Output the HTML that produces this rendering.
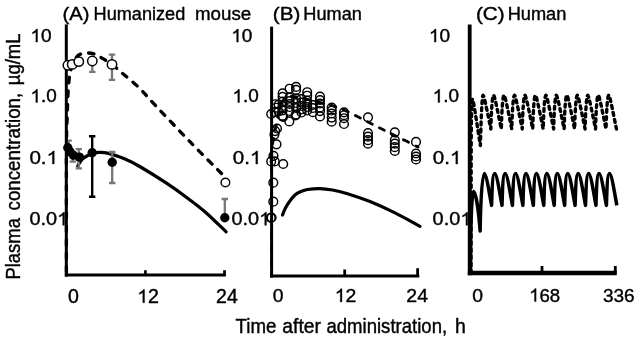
<!DOCTYPE html>
<html><head><meta charset="utf-8"><title>Plasma concentration</title>
<style>html,body{margin:0;padding:0;background:#fff}svg{display:block;will-change:transform;filter:blur(0.45px)}text{font-family:"Liberation Sans",sans-serif;fill:#000;stroke:#000;stroke-width:0.4px}</style></head><body>
<svg width="640" height="341" viewBox="0 0 640 341">
<rect width="640" height="341" fill="#fff"/>
<text x="62.59" y="19.7" font-size="18.9" textLength="26.99" lengthAdjust="spacingAndGlyphs">(A)</text>
<text x="93.55" y="19.7" font-size="18.9" textLength="91.76" lengthAdjust="spacingAndGlyphs">Humanized</text>
<text x="194.98" y="19.7" font-size="18.9" textLength="56.19" lengthAdjust="spacingAndGlyphs">mouse</text>
<text x="272.87" y="19.7" font-size="18.9" textLength="27.43" lengthAdjust="spacingAndGlyphs">(B)</text>
<text x="303.35" y="19.7" font-size="18.9" textLength="58.56" lengthAdjust="spacingAndGlyphs">Human</text>
<text x="475.96" y="19.7" font-size="18.9" textLength="28.63" lengthAdjust="spacingAndGlyphs">(C)</text>
<text x="507.64" y="19.7" font-size="18.9" textLength="58.77" lengthAdjust="spacingAndGlyphs">Human</text>
<g transform="translate(30.42,42.1) scale(1.0040,1)">
<path transform="translate(0.00,0) scale(0.00928,-0.00889)" d="M763,0H583V1147Q518,1085 412.5,1023T223,930V1104Q373,1174.5 485,1275T644,1470H763Z" fill="#000" stroke="#000" stroke-width="37.7"/>
<text x="10.57" y="0" font-size="19.0">0</text>
</g>
<g transform="translate(30.44,102.4) scale(0.9964,1)">
<path transform="translate(0.00,0) scale(0.00928,-0.00889)" d="M763,0H583V1147Q518,1085 412.5,1023T223,930V1104Q373,1174.5 485,1275T644,1470H763Z" fill="#000" stroke="#000" stroke-width="37.7"/>
<text x="10.57" y="0" font-size="19.0">.0</text>
</g>
<g transform="translate(29.38,164.0) scale(1.0838,1)">
<text x="0.00" y="0" font-size="19.0">0.</text>
<path transform="translate(15.85,0) scale(0.00928,-0.00889)" d="M763,0H583V1147Q518,1085 412.5,1023T223,930V1104Q373,1174.5 485,1275T644,1470H763Z" fill="#000" stroke="#000" stroke-width="37.7"/>
</g>
<g transform="translate(29.40,225.3) scale(1.0472,1)">
<text x="0.00" y="0" font-size="19.0">0.0</text>
<path transform="translate(26.41,0) scale(0.00928,-0.00889)" d="M763,0H583V1147Q518,1085 412.5,1023T223,930V1104Q373,1174.5 485,1275T644,1470H763Z" fill="#000" stroke="#000" stroke-width="37.7"/>
</g>
<g transform="translate(231.22,42.1) scale(1.0040,1)">
<path transform="translate(0.00,0) scale(0.00928,-0.00889)" d="M763,0H583V1147Q518,1085 412.5,1023T223,930V1104Q373,1174.5 485,1275T644,1470H763Z" fill="#000" stroke="#000" stroke-width="37.7"/>
<text x="10.57" y="0" font-size="19.0">0</text>
</g>
<g transform="translate(232.44,102.4) scale(0.9964,1)">
<path transform="translate(0.00,0) scale(0.00928,-0.00889)" d="M763,0H583V1147Q518,1085 412.5,1023T223,930V1104Q373,1174.5 485,1275T644,1470H763Z" fill="#000" stroke="#000" stroke-width="37.7"/>
<text x="10.57" y="0" font-size="19.0">.0</text>
</g>
<g transform="translate(232.78,164.0) scale(1.0838,1)">
<text x="0.00" y="0" font-size="19.0">0.</text>
<path transform="translate(15.85,0) scale(0.00928,-0.00889)" d="M763,0H583V1147Q518,1085 412.5,1023T223,930V1104Q373,1174.5 485,1275T644,1470H763Z" fill="#000" stroke="#000" stroke-width="37.7"/>
</g>
<g transform="translate(231.40,225.3) scale(1.0472,1)">
<text x="0.00" y="0" font-size="19.0">0.0</text>
<path transform="translate(26.41,0) scale(0.00928,-0.00889)" d="M763,0H583V1147Q518,1085 412.5,1023T223,930V1104Q373,1174.5 485,1275T644,1470H763Z" fill="#000" stroke="#000" stroke-width="37.7"/>
</g>
<g transform="translate(428.92,42.1) scale(1.0040,1)">
<path transform="translate(0.00,0) scale(0.00928,-0.00889)" d="M763,0H583V1147Q518,1085 412.5,1023T223,930V1104Q373,1174.5 485,1275T644,1470H763Z" fill="#000" stroke="#000" stroke-width="37.7"/>
<text x="10.57" y="0" font-size="19.0">0</text>
</g>
<g transform="translate(432.64,102.4) scale(0.9964,1)">
<path transform="translate(0.00,0) scale(0.00928,-0.00889)" d="M763,0H583V1147Q518,1085 412.5,1023T223,930V1104Q373,1174.5 485,1275T644,1470H763Z" fill="#000" stroke="#000" stroke-width="37.7"/>
<text x="10.57" y="0" font-size="19.0">.0</text>
</g>
<g transform="translate(432.78,164.0) scale(1.0838,1)">
<text x="0.00" y="0" font-size="19.0">0.</text>
<path transform="translate(15.85,0) scale(0.00928,-0.00889)" d="M763,0H583V1147Q518,1085 412.5,1023T223,930V1104Q373,1174.5 485,1275T644,1470H763Z" fill="#000" stroke="#000" stroke-width="37.7"/>
</g>
<g transform="translate(432.60,225.3) scale(1.0472,1)">
<text x="0.00" y="0" font-size="19.0">0.0</text>
<path transform="translate(26.41,0) scale(0.00928,-0.00889)" d="M763,0H583V1147Q518,1085 412.5,1023T223,930V1104Q373,1174.5 485,1275T644,1470H763Z" fill="#000" stroke="#000" stroke-width="37.7"/>
</g>
<text x="67.96" y="302.8" font-size="19.4" textLength="10.89" lengthAdjust="spacingAndGlyphs">0</text>
<g transform="translate(137.21,302.8) scale(1.0123,1)">
<path transform="translate(0.00,0) scale(0.00947,-0.00908)" d="M763,0H583V1147Q518,1085 412.5,1023T223,930V1104Q373,1174.5 485,1275T644,1470H763Z" fill="#000" stroke="#000" stroke-width="36.9"/>
<text x="10.79" y="0" font-size="19.4">2</text>
</g>
<text x="216.13" y="302.8" font-size="19.4" textLength="21.68" lengthAdjust="spacingAndGlyphs">24</text>
<text x="272.87" y="301.9" font-size="19.1" textLength="10.78" lengthAdjust="spacingAndGlyphs">0</text>
<g transform="translate(334.73,301.9) scale(1.0173,1)">
<path transform="translate(0.00,0) scale(0.00933,-0.00894)" d="M763,0H583V1147Q518,1085 412.5,1023T223,930V1104Q373,1174.5 485,1275T644,1470H763Z" fill="#000" stroke="#000" stroke-width="37.5"/>
<text x="10.62" y="0" font-size="19.1">2</text>
</g>
<text x="406.33" y="301.9" font-size="19.1" textLength="21.68" lengthAdjust="spacingAndGlyphs">24</text>
<text x="472.22" y="301.6" font-size="18.9" textLength="10.78" lengthAdjust="spacingAndGlyphs">0</text>
<g transform="translate(529.17,301.6) scale(0.9861,1)">
<path transform="translate(0.00,0) scale(0.00923,-0.00885)" d="M763,0H583V1147Q518,1085 412.5,1023T223,930V1104Q373,1174.5 485,1275T644,1470H763Z" fill="#000" stroke="#000" stroke-width="37.9"/>
<text x="10.51" y="0" font-size="18.9">68</text>
</g>
<text x="602.99" y="301.6" font-size="18.9" textLength="31.64" lengthAdjust="spacingAndGlyphs">336</text>
<text x="235.53" y="333.2" font-size="19.3" textLength="40.84" lengthAdjust="spacingAndGlyphs">Time</text>
<text x="282.33" y="333.2" font-size="19.3" textLength="38.73" lengthAdjust="spacingAndGlyphs">after</text>
<text x="326.46" y="333.2" font-size="19.3" textLength="120.67" lengthAdjust="spacingAndGlyphs">administration,</text>
<text x="454.93" y="333.2" font-size="19.3" textLength="10.86" lengthAdjust="spacingAndGlyphs">h</text>
<text transform="translate(19.8,300) rotate(-90)" x="20.42" y="0" font-size="19.4" textLength="61.61" lengthAdjust="spacingAndGlyphs">Plasma</text>
<text transform="translate(19.8,300) rotate(-90)" x="89.55" y="0" font-size="19.4" textLength="117.70" lengthAdjust="spacingAndGlyphs">concentration,</text>
<text transform="translate(19.8,300) rotate(-90)" x="214.80" y="0" font-size="19.4" textLength="51.67" lengthAdjust="spacingAndGlyphs">µg/mL</text>
<path d="M66.4,272.0C66.4,253.3 66.4,183.5 66.4,160.0C66.5,136.5 66.6,138.0 66.7,131.0C66.8,124.0 67.0,123.0 67.2,118.0C67.4,113.0 67.5,106.5 67.7,101.0C67.9,95.5 68.2,89.8 68.6,85.0C69.0,80.2 69.4,75.9 70.3,72.0C71.2,68.1 72.6,64.3 74.0,61.5C75.4,58.7 76.6,56.4 78.8,55.0C81.0,53.6 84.3,53.1 87.0,53.0C89.7,52.9 92.3,53.3 95.0,54.3C97.7,55.2 100.2,57.0 103.0,58.7C105.8,60.4 108.9,62.2 112.0,64.6C115.1,66.9 117.5,69.1 121.8,72.8C126.1,76.5 132.2,81.1 137.8,86.5C143.4,91.9 146.4,95.9 155.2,105.2C164.0,114.5 179.2,130.7 190.4,142.2C201.6,153.7 217.0,169.0 222.3,174.3" fill="none" stroke="#000" stroke-width="3.3" stroke-dasharray="5.5 8" stroke-linecap="round"/>
<path d="M77.7,166.0C78.2,165.2 79.4,162.9 80.5,161.5C81.6,160.1 82.2,158.9 84.2,157.6C86.2,156.2 89.7,154.3 92.3,153.4C94.9,152.5 97.3,152.4 100.0,152.4C102.7,152.4 104.3,152.3 108.4,153.4C112.5,154.5 119.1,156.5 124.5,158.8C129.9,161.1 133.6,162.9 140.6,167.0C147.6,171.1 158.4,177.8 166.5,183.2C174.6,188.6 182.6,194.4 189.0,199.2C195.4,204.0 199.0,206.6 205.2,212.0C211.4,217.4 222.6,228.5 226.1,231.8" fill="none" stroke="#000" stroke-width="3.2" stroke-linecap="round"/>
<path d="M92.3,56V71.9M89.1,71.9h6.4" stroke="#777" stroke-width="2.3" fill="none"/>
<path d="M112,54.6V79.8M108.8,54.6h6.4M108.8,79.8h6.4" stroke="#777" stroke-width="2.3" fill="none"/>
<path d="M68.6,140.6V155M65.39999999999999,140.6h6.4" stroke="#777" stroke-width="2.3" fill="none"/>
<path d="M72.8,150V161.6M69.6,161.6h6.4" stroke="#777" stroke-width="2.3" fill="none"/>
<path d="M78.8,149.1V168.4M75.6,149.1h6.4M75.6,168.4h6.4" stroke="#777" stroke-width="2.3" fill="none"/>
<path d="M92.2,136.3V196.8M89.0,136.3h6.4M89.0,196.8h6.4" stroke="#000" stroke-width="2.4" fill="none"/>
<path d="M112.2,152V183M109.0,152h6.4M109.0,183h6.4" stroke="#777" stroke-width="2.3" fill="none"/>
<path d="M224.8,199V217M221.60000000000002,199h6.4" stroke="#777" stroke-width="2.3" fill="none"/>
<path d="M66.3,24.4V276.6" stroke="#000" stroke-width="3" fill="none"/>
<path d="M64.8,275H225.9" stroke="#000" stroke-width="3.1" fill="none"/>
<path d="M145.4,275V270.3M224.5,275V270.3" stroke="#000" stroke-width="2.7" fill="none"/>
<circle cx="67.9" cy="65.3" r="4.7" fill="#fff" stroke="#000" stroke-width="1.5"/>
<circle cx="72.2" cy="64.4" r="4.7" fill="#fff" stroke="#000" stroke-width="1.5"/>
<circle cx="78.8" cy="61.6" r="4.7" fill="#fff" stroke="#000" stroke-width="1.5"/>
<circle cx="92.3" cy="61" r="4.7" fill="#fff" stroke="#000" stroke-width="1.5"/>
<circle cx="112" cy="64.4" r="4.7" fill="#fff" stroke="#000" stroke-width="1.5"/>
<circle cx="225.4" cy="182.5" r="4.3" fill="#fff" stroke="#000" stroke-width="1.4"/>
<circle cx="67.8" cy="147.8" r="4.7" fill="#000"/>
<circle cx="70" cy="151.9" r="4.7" fill="#000"/>
<circle cx="73.4" cy="155.3" r="4.7" fill="#000"/>
<circle cx="79.4" cy="157.1" r="4.7" fill="#000"/>
<circle cx="92.2" cy="152.8" r="4.7" fill="#000"/>
<circle cx="112.2" cy="162.2" r="4.7" fill="#000"/>
<circle cx="224.8" cy="217.8" r="4.7" fill="#000"/>
<path d="M271.6,273.0C271.6,254.2 271.5,181.3 271.6,160.0C271.8,138.7 272.0,149.5 272.5,145.0C273.0,140.5 273.9,136.4 274.5,133.0C275.1,129.6 275.7,128.0 276.4,124.5C277.1,121.0 277.7,115.4 278.5,112.0C279.3,108.6 279.9,106.2 281.0,104.0C282.1,101.8 283.3,99.8 285.0,98.5C286.7,97.2 288.5,96.7 291.0,96.5C293.5,96.3 296.8,96.9 300.0,97.5C303.2,98.1 306.7,99.2 310.0,100.0C313.3,100.8 316.3,101.6 320.0,102.5C323.7,103.4 328.0,104.2 332.0,105.5C336.0,106.8 340.7,108.6 344.0,110.0C347.3,111.4 348.0,111.8 352.0,113.8C356.0,115.8 362.9,119.4 368.0,122.0C373.1,124.6 377.6,127.0 382.8,129.6C388.1,132.2 393.6,134.8 399.5,137.7C405.4,140.6 414.9,145.4 418.0,147.0" fill="none" stroke="#000" stroke-width="2.8" stroke-dasharray="5.5 8" stroke-linecap="round" stroke-dashoffset="5.4"/>
<path d="M282.5,215.0C282.9,214.0 283.9,211.1 285.0,209.0C286.1,206.9 287.1,204.8 288.8,202.5C290.5,200.2 293.0,196.8 295.0,195.0C297.0,193.2 298.9,192.4 301.0,191.5C303.1,190.6 304.3,190.0 307.5,189.5C310.7,189.0 315.8,188.5 320.0,188.6C324.2,188.7 327.9,189.2 332.5,190.0C337.1,190.8 341.2,191.8 347.5,193.7C353.8,195.6 362.1,198.4 370.0,201.6C377.9,204.8 386.7,208.8 395.0,212.9C403.3,217.0 415.8,224.1 420.0,226.3" fill="none" stroke="#000" stroke-width="3.2" stroke-linecap="round"/>
<path d="M271.6,26.6V277.6" stroke="#000" stroke-width="3" fill="none"/>
<path d="M270.1,276H419.3" stroke="#000" stroke-width="3.1" fill="none"/>
<path d="M344.7,276V269.5M417.6,276V268.3" stroke="#000" stroke-width="2.8" fill="none"/>
<g fill="none" stroke="#000" stroke-width="1.45">
<circle cx="270.8" cy="217.9" r="4.35"/>
<circle cx="271.6" cy="217.5" r="4.35"/>
<circle cx="273.3" cy="201.7" r="4.35"/>
<circle cx="273.3" cy="182.7" r="4.35"/>
<circle cx="271.2" cy="161.4" r="4.35"/>
<circle cx="274.7" cy="161.4" r="4.35"/>
<circle cx="273.5" cy="155.8" r="4.35"/>
<circle cx="276.5" cy="144.3" r="4.35"/>
<circle cx="274.4" cy="134.6" r="4.35"/>
<circle cx="275.2" cy="131.1" r="4.35"/>
<circle cx="277" cy="128.5" r="4.35"/>
<circle cx="283.2" cy="164" r="4.35"/>
<circle cx="289.3" cy="121.4" r="4.35"/>
<circle cx="282.3" cy="116.2" r="4.35"/>
<circle cx="295.5" cy="115.3" r="4.35"/>
<circle cx="271.2" cy="114" r="4.35"/>
<circle cx="274.7" cy="111.9" r="4.35"/>
<circle cx="276.1" cy="107.7" r="4.35"/>
<circle cx="275.4" cy="104.2" r="4.35"/>
<circle cx="283.1" cy="116.8" r="4.35"/>
<circle cx="282.6" cy="93.4" r="4.35"/>
<circle cx="282.6" cy="96.9" r="4.35"/>
<circle cx="282.6" cy="101.5" r="4.35"/>
<circle cx="282.6" cy="106" r="4.35"/>
<circle cx="282.6" cy="110.5" r="4.35"/>
<circle cx="282.6" cy="115.7" r="4.35"/>
<circle cx="289.6" cy="88.7" r="4.35"/>
<circle cx="289.6" cy="97.5" r="4.35"/>
<circle cx="289.6" cy="101" r="4.35"/>
<circle cx="289.6" cy="104" r="4.35"/>
<circle cx="289.6" cy="107" r="4.35"/>
<circle cx="289.6" cy="111" r="4.35"/>
<circle cx="296.1" cy="86.9" r="4.35"/>
<circle cx="296.1" cy="89.9" r="4.35"/>
<circle cx="296.1" cy="98.5" r="4.35"/>
<circle cx="296.1" cy="103" r="4.35"/>
<circle cx="296.1" cy="108" r="4.35"/>
<circle cx="296.1" cy="114.5" r="4.35"/>
<circle cx="301.5" cy="99" r="4.35"/>
<circle cx="301.5" cy="102.5" r="4.35"/>
<circle cx="301.5" cy="106" r="4.35"/>
<circle cx="301.5" cy="109.5" r="4.35"/>
<circle cx="301.5" cy="112.5" r="4.35"/>
<circle cx="307.2" cy="92.2" r="4.35"/>
<circle cx="307.2" cy="95.7" r="4.35"/>
<circle cx="307.2" cy="100.5" r="4.35"/>
<circle cx="307.2" cy="104" r="4.35"/>
<circle cx="307.2" cy="107" r="4.35"/>
<circle cx="307.2" cy="110.5" r="4.35"/>
<circle cx="312.8" cy="105" r="4.35"/>
<circle cx="312.8" cy="108" r="4.35"/>
<circle cx="312.8" cy="112.2" r="4.35"/>
<circle cx="320" cy="96.5" r="4.35"/>
<circle cx="320" cy="100" r="4.35"/>
<circle cx="320" cy="103.5" r="4.35"/>
<circle cx="320" cy="107.5" r="4.35"/>
<circle cx="320" cy="111.1" r="4.35"/>
<circle cx="320" cy="116.4" r="4.35"/>
<circle cx="331.7" cy="107.6" r="4.35"/>
<circle cx="331.7" cy="110.5" r="4.35"/>
<circle cx="331.7" cy="113.5" r="4.35"/>
<circle cx="331.7" cy="117.6" r="4.35"/>
<circle cx="331.7" cy="121.7" r="4.35"/>
<circle cx="344" cy="112.3" r="4.35"/>
<circle cx="344" cy="115.2" r="4.35"/>
<circle cx="344" cy="118.2" r="4.35"/>
<circle cx="344" cy="124" r="4.35"/>
<circle cx="368" cy="117.3" r="4.35"/>
<circle cx="368" cy="133.1" r="4.35"/>
<circle cx="368" cy="136.7" r="4.35"/>
<circle cx="368" cy="140.2" r="4.35"/>
<circle cx="368" cy="143.7" r="4.35"/>
<circle cx="394.8" cy="132.3" r="4.35"/>
<circle cx="394.8" cy="140.2" r="4.35"/>
<circle cx="394.8" cy="143.7" r="4.35"/>
<circle cx="394.8" cy="147.2" r="4.35"/>
<circle cx="394.8" cy="151" r="4.35"/>
<circle cx="416" cy="141.9" r="4.35"/>
<circle cx="416" cy="153.5" r="4.35"/>
<circle cx="416" cy="156.5" r="4.35"/>
<circle cx="416" cy="159.5" r="4.35"/>
<circle cx="278.6" cy="104.5" r="4.35"/>
<circle cx="278.6" cy="111.5" r="4.35"/>
</g>
<path d="M471,273 L471.2,140 C471.4,115 471.8,99.5 472.5,99.3 C473.5,99.5 475.9,118 480.37,145.6 C480.87,127.6 481.77,95.5 483.07,95.2 C484.07,95.4 486.37,107.2 490.84,129.0 C491.34,111.0 492.24,95.5 493.54,95.2 C494.54,95.4 496.84,107.2 501.31,129.0 C501.81,111.0 502.71,95.5 504.01,95.2 C505.01,95.4 507.31,107.2 511.78,129.0 C512.28,111.0 513.18,95.5 514.48,95.2 C515.48,95.4 517.78,107.2 522.25,129.0 C522.75,111.0 523.65,95.5 524.95,95.2 C525.95,95.4 528.25,107.2 532.72,129.0 C533.22,111.0 534.12,95.5 535.42,95.2 C536.42,95.4 538.72,107.2 543.19,129.0 C543.69,111.0 544.59,95.5 545.89,95.2 C546.89,95.4 549.19,107.2 553.66,129.0 C554.16,111.0 555.06,95.5 556.36,95.2 C557.36,95.4 559.66,107.2 564.13,129.0 C564.63,111.0 565.53,95.5 566.83,95.2 C567.83,95.4 570.13,107.2 574.60,129.0 C575.10,111.0 576.00,95.5 577.30,95.2 C578.30,95.4 580.60,107.2 585.07,129.0 C585.57,111.0 586.47,95.5 587.77,95.2 C588.77,95.4 591.07,107.2 595.54,129.0 C596.04,111.0 596.94,95.5 598.24,95.2 C599.24,95.4 601.54,107.2 606.01,129.0 C606.51,111.0 607.41,95.5 608.71,95.2 C609.71,95.4 612.01,107.2 616.48,129.0" fill="none" stroke="#000" stroke-width="3.4" stroke-dasharray="3 4.1" stroke-linecap="round" stroke-linejoin="round"/>
<path d="M470.5,273 L470.7,240 C471,215 472,192 473.7,191.5 C475.3,191.5 478.3,206 480.14,231 C480.74,195.3 482.34,173.5 484.24,173.5 C486.24,173.5 488.98,191.4 491.58,205.4 C492.18,185.6 492.78,173.5 494.68,173.5 C496.68,173.5 499.42,191.4 502.02,205.4 C502.62,185.6 503.22,173.5 505.12,173.5 C507.12,173.5 509.86,191.4 512.46,205.4 C513.06,185.6 513.66,173.5 515.56,173.5 C517.56,173.5 520.30,191.4 522.90,205.4 C523.50,185.6 524.10,173.5 526.00,173.5 C528.00,173.5 530.74,191.4 533.34,205.4 C533.94,185.6 534.54,173.5 536.44,173.5 C538.44,173.5 541.18,191.4 543.78,205.4 C544.38,185.6 544.98,173.5 546.88,173.5 C548.88,173.5 551.62,191.4 554.22,205.4 C554.82,185.6 555.42,173.5 557.32,173.5 C559.32,173.5 562.06,191.4 564.66,205.4 C565.26,185.6 565.86,173.5 567.76,173.5 C569.76,173.5 572.50,191.4 575.10,205.4 C575.70,185.6 576.30,173.5 578.20,173.5 C580.20,173.5 582.94,191.4 585.54,205.4 C586.14,185.6 586.74,173.5 588.64,173.5 C590.64,173.5 593.38,191.4 595.98,205.4 C596.58,185.6 597.18,173.5 599.08,173.5 C601.08,173.5 603.82,191.4 606.42,205.4 C607.02,185.6 607.62,173.5 609.52,173.5 C611.52,173.5 614.26,191.4 616.86,205.4" fill="none" stroke="#000" stroke-width="3.5" stroke-linejoin="round"/>
<path d="M469.7,24.4V275.3" stroke="#000" stroke-width="3.8" fill="none"/>
<path d="M467.8,273H616.8" stroke="#000" stroke-width="4.4" fill="none"/>
<path d="M542,273V266M615.3,273V266" stroke="#000" stroke-width="2.8" fill="none"/>
</svg></body></html>
